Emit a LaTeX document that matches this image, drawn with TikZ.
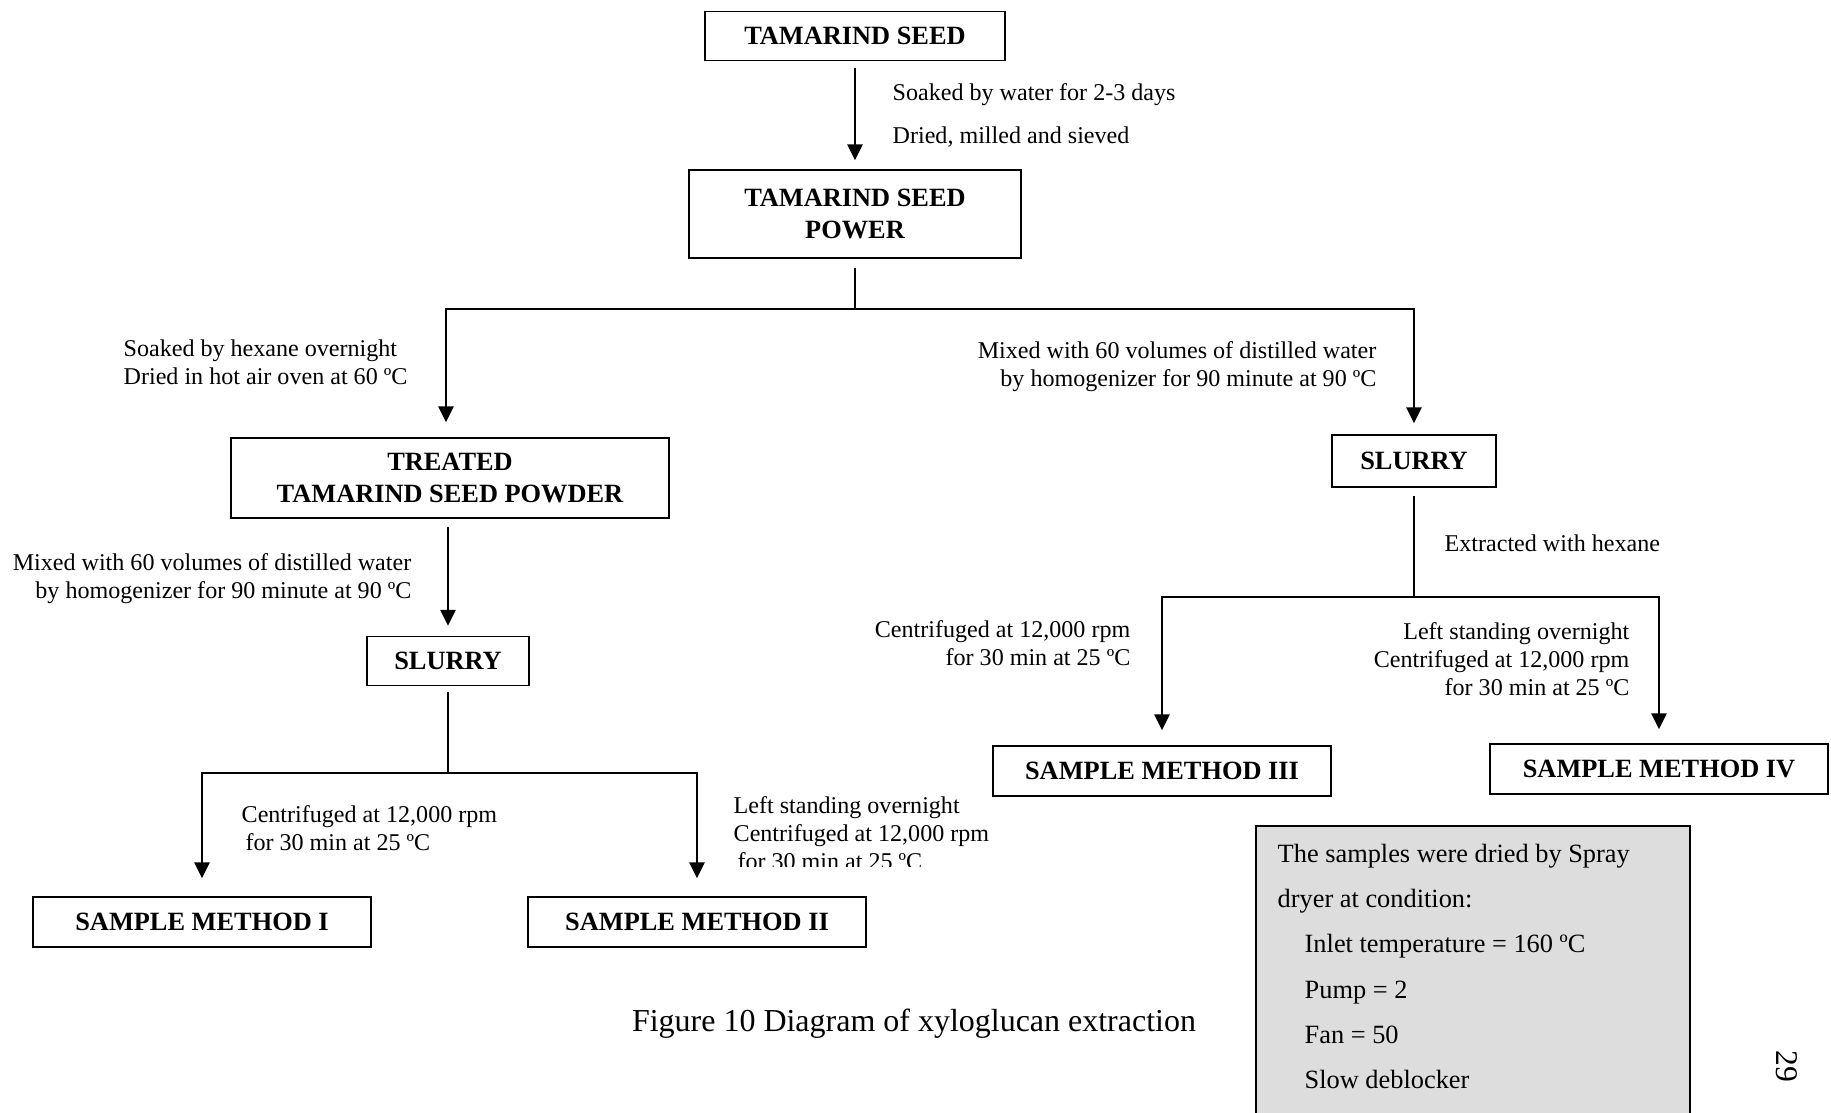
\documentclass[tikz,border=0pt]{standalone}
\usepackage{fontspec}
\setmainfont{Liberation Serif}
\usepackage{tikz}
\usetikzlibrary{arrows.meta}
\definecolor{notegray}{RGB}{221,221,221}
\tikzstyle{stage} = [draw,line width=0.5pt,inner sep=0pt,align=center,font=\fontsize{7.5}{9}\selectfont\bfseries]
\tikzstyle{wide} = [minimum width=33.8mm,minimum height=5mm]
\tikzstyle{note} = [inner sep=0pt,font=\fontsize{6.85}{8}\selectfont]
\tikzstyle{arrow} = [line width=0.45pt,->,>={Triangle[length=4.5pt,width=4.4pt]}]
\tikzstyle{link} = [line width=0.45pt]

\begin{document}
\begin{tikzpicture}[x=0.1mm,y=-0.1mm]
\useasboundingbox (0,0) rectangle (1831,1112);

% boxes
\node (seed) [stage, minimum width=30mm, minimum height=4.9mm] at (855,36) {TAMARIND SEED};
\node (power) [stage, minimum width=33.2mm, minimum height=8.8mm] at (855,214) {TAMARIND SEED\\POWER};
\node (treated) [stage, minimum width=43.8mm, minimum height=8mm] at (450,478) {TREATED\\TAMARIND SEED POWDER};
\node (slurryL) [stage, minimum width=16.2mm, minimum height=4.9mm] at (448,661) {SLURRY};
\node (slurryR) [stage, minimum width=16.4mm, minimum height=5.2mm] at (1414,461) {SLURRY};
\node (methodI) [stage, wide] at (202,922) {SAMPLE METHOD I};
\node (methodII) [stage, wide] at (697,922) {SAMPLE METHOD II};
\node (methodIII) [stage, wide] at (1162,771) {SAMPLE METHOD III};
\node (methodIV) [stage, wide] at (1659,769) {SAMPLE METHOD IV};

% branch points
\coordinate (splitA) at (855,309);
\coordinate (splitB) at (448,773);
\coordinate (splitC) at (1414,597);

% step labels
\node (water) [note, anchor=west] at (892,95) {Soaked by water for 2-3 days};
\node (mill) [note, anchor=west] at (892,137) {Dried, milled and sieved};
\node (hexane) [note, anchor=west, align=left] at (123,362) {Soaked by hexane overnight\\Dried in hot air oven at 60 ºC};
\node (mixL) [note, anchor=east, align=right] at (412,579) {Mixed with 60 volumes of distilled water\\by homogenizer for 90 minute at 90 ºC};
\node (mixR) [note, anchor=east, align=right] at (1377,367) {Mixed with 60 volumes of distilled water\\by homogenizer for 90 minute at 90 ºC};
\node (extract) [note, anchor=west] at (1444,543) {Extracted with hexane};
\node (centI) [note, anchor=west, align=left] at (241,828) {Centrifuged at 12,000 rpm\\\hspace*{1.1pt}for 30 min at 25 ºC};
\begin{scope}
\clip (700,780) rectangle (1010,866);
\node (centII) [note, anchor=west, align=left] at (733,833) {Left standing overnight\\Centrifuged at 12,000 rpm\\\hspace*{1.1pt}for 30 min at 25 ºC};
\end{scope}
\node (centIII) [note, anchor=east, align=right] at (1131,643) {Centrifuged at 12,000 rpm\\for 30 min at 25 ºC};
\node (centIV) [note, anchor=east, align=right] at (1630,659) {Left standing overnight\\Centrifuged at 12,000 rpm\\for 30 min at 25 ºC};

% connectors
\draw [arrow, shorten <=0.7mm, shorten >=0.9mm] (seed) -- (power);
\draw [link, shorten <=0.9mm] (power) -- (splitA);
\draw [arrow, shorten >=1.5mm] (splitA) -| ([xshift=-0.4mm]treated.north);
\draw [arrow, shorten >=1.1mm] (splitA) -| (slurryR.north);
\draw [arrow, shorten <=0.8mm, shorten >=1.0mm] (treated.south -| slurryL) -- (slurryL);
\draw [link, shorten <=0.6mm] (slurryL) -- (splitB);
\draw [arrow, shorten >=1.8mm] (splitB) -| (methodI.north);
\draw [arrow, shorten >=1.8mm] (splitB) -| (methodII.north);
\draw [link, shorten <=0.8mm] (slurryR) -- (splitC);
\draw [arrow, shorten >=1.5mm] (splitC) -| (methodIII.north);
\draw [arrow, shorten >=1.4mm] (splitC) -| (methodIV.north);

% spray dryer note
\draw [line width=0.5pt, fill=notegray] (1256,826) rectangle (1690,1130);
\node (spray) [anchor=north west, align=left, inner sep=0pt, font=\fontsize{7.5}{12.9}\selectfont] at (1277,843)
  {The samples were dried by Spray\\dryer at condition:\\
   \hspace*{2.7mm}Inlet temperature = 160 ºC\\\hspace*{2.7mm}Pump = 2\\
   \hspace*{2.7mm}Fan = 50\\\hspace*{2.7mm}Slow deblocker};

% caption and page number
\node (caption) [inner sep=0pt, font=\fontsize{9.1}{11}\selectfont] at (914,1024) {Figure 10 Diagram of xyloglucan extraction};
\node (pagenum) [inner sep=0pt, rotate=-90, font=\fontsize{9}{11}\selectfont] at (1787,1066) {29};
\end{tikzpicture}
\end{document}
